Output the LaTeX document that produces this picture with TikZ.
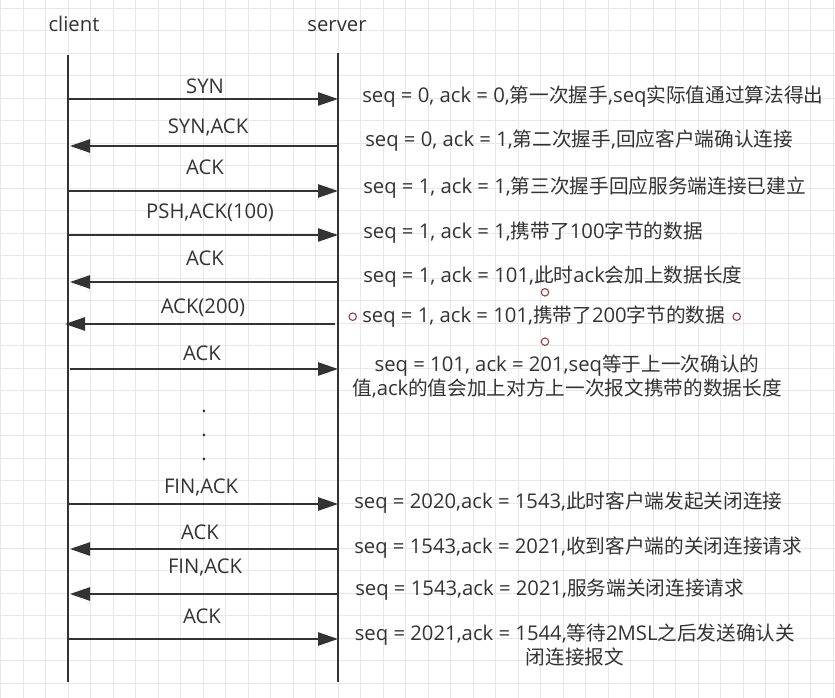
\documentclass[tikz,border=0pt]{standalone}
\usepackage{fontspec}
\setmainfont{Open Sans}
\newfontfamily\zh[Scale=0.97]{Noto Sans CJK SC}
\usepackage{tikz}
\usetikzlibrary{arrows.meta}
\definecolor{linec}{HTML}{333333}
\definecolor{gridc}{HTML}{E8E8E8}
\definecolor{handle}{HTML}{A33A36}
\newcommand{\hz}[1]{{\zh #1}}
\tikzset{
  life/.style={draw=linec, line width=1.1pt},
  msg/.style={-{Triangle[length=15pt,width=10pt]}, line width=1.1pt, draw=linec},
  lbl/.style={font=\fontsize{15.2}{18}\selectfont, text=linec, inner sep=0pt,
              text height=11pt, text depth=3pt},
  note/.style={lbl, anchor=west},
  para/.style={font=\fontsize{15.2}{17.6}\selectfont, text=linec, inner sep=0pt, align=center},
}

\begin{document}
\begin{tikzpicture}[x=0.75pt,y=-0.75pt]
     \useasboundingbox (0,0) rectangle (835,698);
     \fill[white] (0,0) rectangle (835,698);
     \draw[gridc, line width=0.75pt, shift={(0.8,8.3)}, step=16.875pt] (-1,-9) grid (835,690);
     % lifelines
     \node[lbl] (client) at (74,26) {client};
     \node[lbl] (server) at (337,26) {server};
     \coordinate (ctop) at (68,55); \coordinate (cbot) at (68,682);
     \coordinate (stop) at (338,53); \coordinate (sbot) at (338,682);
     \draw[life](ctop)--(cbot); \draw[life](stop)--(sbot);
     % handshake
     \coordinate (c1) at (68,99); \coordinate (s1) at (338,99);
     \draw[msg](c1)--(s1);
     \node[lbl] (m1) at (205,88) {SYN};
     \node[note] (n1) at (362,97) {seq = 0, ack = 0,\hz{第一次握手},seq\hz{实际值通过算法得出}};
     \coordinate (c2) at (70,146); \coordinate (s2) at (338,146);
     \draw[msg](s2)--(c2);
     \node[lbl] (m2) at (208,128) {SYN,ACK};
     \node[note] (n2) at (365,141) {seq = 0, ack = 1,\hz{第二次握手},\hz{回应客户端确认连接}};
     \coordinate (c3) at (68,191); \coordinate (s3) at (338,191);
     \draw[msg](c3)--(s3);
     \node[lbl] (m3) at (205,169) {ACK};
     \node[note] (n3) at (363,188) {seq = 1, ack = 1,\hz{第三次握手回应服务端连接已建立}};
     % data
     \coordinate (c4) at (68,235); \coordinate (s4) at (338,235);
     \draw[msg](c4)--(s4);
     \node[lbl] (m4) at (210,213) {PSH,ACK(100)};
     \node[note] (n4) at (363,233) {seq = 1, ack = 1,\hz{携带了}100\hz{字节的数据}};
     \coordinate (c5) at (70,282); \coordinate (s5) at (338,282);
     \draw[msg](s5)--(c5);
     \node[lbl] (m5) at (205,260) {ACK};
     \node[note] (n5) at (363,277) {seq = 1, ack = 101,\hz{此时}ack\hz{会加上数据长度}};
     \coordinate (c6) at (65,324); \coordinate (s6) at (335,324);
     \draw[msg](s6)--(c6);
     \node[lbl] (m6) at (203,308) {ACK(200)};
     \node[note] (n6) at (362,317) {seq = 1, ack = 101,\hz{携带了}200\hz{字节的数据}};
     \draw[handle, line width=0.8pt] (352.7,316.7) circle[radius=2.8pt] (736.7,316.7) circle[radius=2.8pt]
          (545,292.3) circle[radius=2.8pt] (545,341.7) circle[radius=2.8pt];
     \coordinate (c7) at (70,369); \coordinate (s7) at (338,369);
     \draw[msg](c7)--(s7);
     \node[lbl] (m7) at (202,355) {ACK};
     \node[para] (n7) at (567,376.5) {seq = 101, ack = 201,seq\hz{等于上一次确认的}\\\hz{值},ack\hz{的值会加上对方上一次报文携带的数据长度}};
     \node[lbl, anchor=base] (d1) at (204,412) {.};
     \node[lbl, anchor=base] (d2) at (204,436) {.};
     \node[lbl, anchor=base] (d3) at (204,460) {.};
     % close
     \coordinate (c8) at (68,504); \coordinate (s8) at (338,504);
     \draw[msg](c8)--(s8);
     \node[lbl] (m8) at (201,488) {FIN,ACK};
     \node[note] (n8) at (354,503) {seq = 2020,ack = 1543,\hz{此时客户端发起关闭连接}};
     \coordinate (c9) at (70,549); \coordinate (s9) at (338,549);
     \draw[msg](s9)--(c9);
     \node[lbl] (m9) at (200,534) {ACK};
     \node[note] (n9) at (354,548) {seq = 1543,ack = 2021,\hz{收到客户端的关闭连接请求}};
     \coordinate (c10) at (70,594); \coordinate (s10) at (338,594);
     \draw[msg](s10)--(c10);
     \node[lbl] (m10) at (205,568) {FIN,ACK};
     \node[note] (n10) at (355,590) {seq = 1543,ack = 2021,\hz{服务端关闭连接请求}};
     \coordinate (c11) at (68,639); \coordinate (s11) at (338,639);
     \draw[msg](c11)--(s11);
     \node[lbl] (m11) at (202,618) {ACK};
     \node[para] (n11) at (575,645) {seq = 2021,ack = 1544,\hz{等待}2MSL\hz{之后发送确认关}\\\hz{闭连接报文}};
   \end{tikzpicture}
\end{document}
